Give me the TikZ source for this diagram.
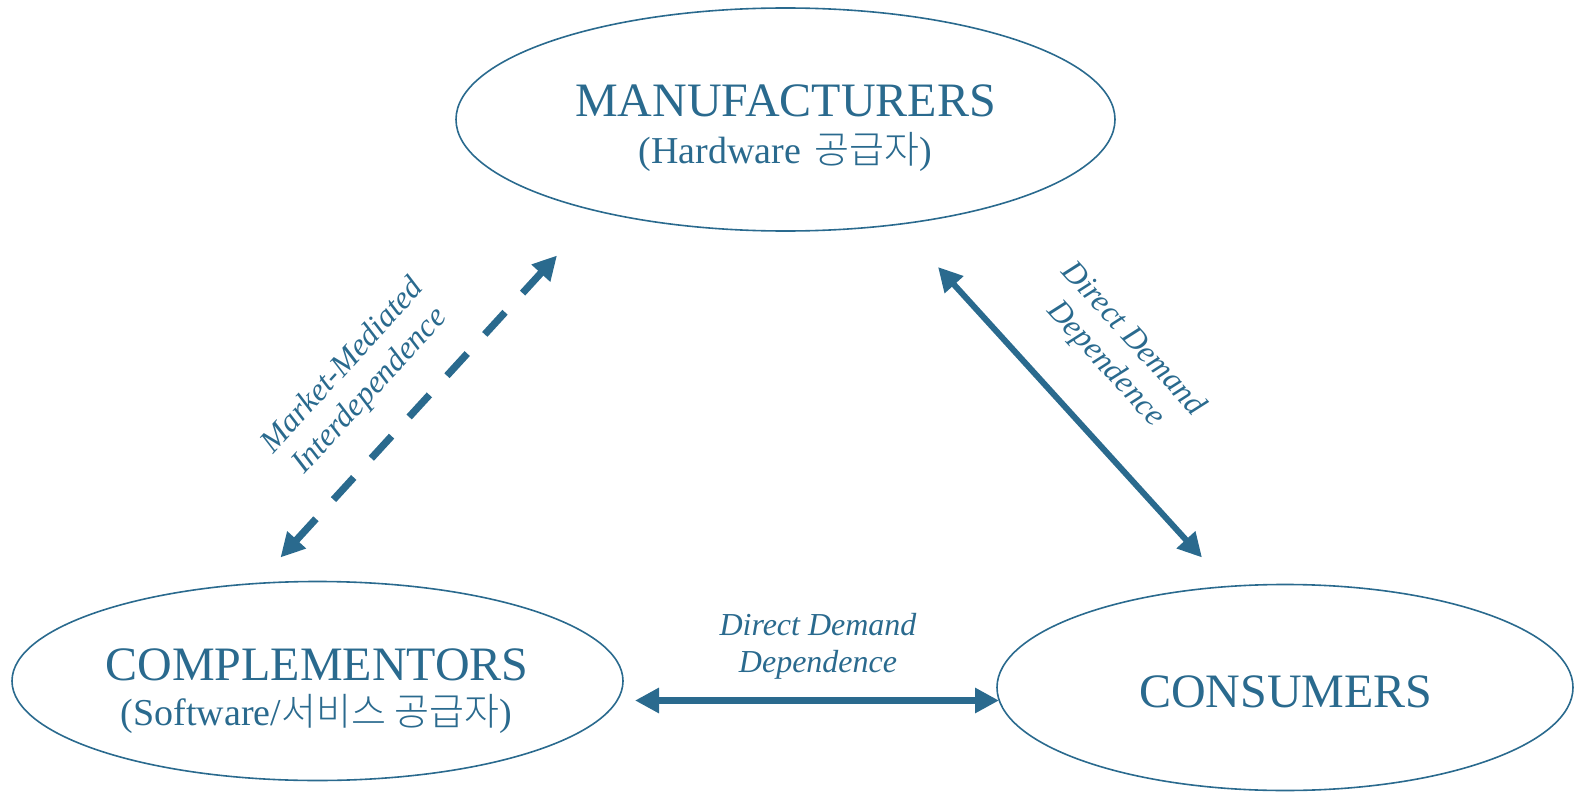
\documentclass[tikz,border=0pt]{standalone}
\usepackage{fontspec}
\setmainfont{Liberation Serif}
\IfFontExistsTF{Noto Sans CJK KR Light}
  {\newfontfamily\kr{Noto Sans CJK KR Light}}
  {\newfontfamily\kr{Noto Sans CJK KR}}
\usetikzlibrary{arrows.meta,shapes.geometric}
\definecolor{ink}{RGB}{42,106,142}
\tikzset{
  party/.style={draw=ink, line width=0.8pt, ellipse, inner sep=0pt},
  title/.style={text=ink, anchor=base, inner sep=0pt, font=\fontsize{24}{24}\selectfont},
  subtitle/.style={text=ink, anchor=base, inner sep=0pt, font=\fontsize{19}{19}\selectfont},
  relation/.style={draw=ink, line width=3.4pt, {Triangle[length=12pt,width=12pt]}-{Triangle[length=12pt,width=12pt]}},
  relabel/.style={text=ink, font=\fontsize{16}{18.5}\selectfont\itshape, align=center, inner sep=0pt},
}
\begin{document}
\begin{tikzpicture}[x=0.5pt,y=-0.5pt]
\useasboundingbox (0,0) rectangle (1575,792);

% the three parties
\node[party, minimum width=329.5pt, minimum height=111.5pt] (manu) at (785.5,119.5) {};
\node[party, minimum width=305.5pt, minimum height=99.5pt] (compl) at (317.5,681) {};
\node[party, minimum width=288pt, minimum height=103pt] (cons) at (1285,687.5) {};

\node[title] (manu-t) at (785.5,116.5) {MANUFACTURERS};
\node[subtitle] (manu-s) at (785.5,163.5) {(Hardware\hspace{0.1em} {\kr 공급자})};
\node[title] (compl-t) at (317,680) {COMPLEMENTORS};
\node[subtitle] (compl-s) at (316.5,725) {(Software/{\kr 서비스 공급자})};
\node[title] (cons-t) at (1286,707) {CONSUMERS};

% arrow end points
\coordinate (mm-a) at (280.5,557.5);
\coordinate (mm-b) at (557,255.5);
\coordinate (dd-a) at (938,267);
\coordinate (dd-b) at (1202,557.5);
\coordinate (cc-a) at (635,700.5);
\coordinate (cc-b) at (999,700.5);

% relations
\draw[relation, line width=3.6pt, dash pattern=on 15pt off 13pt] (mm-a) -- (mm-b);
\draw[relation, line width=3pt] (dd-a) -- (dd-b);
\draw[relation] (cc-a) -- (cc-b);

% relation labels
\node[relabel, rotate=47.5] (mm-label) at (357,379) {Market-Mediated\\Interdependence};
\node[relabel, rotate=-47.5] (dd-label) at (1119,352) {Direct Demand\\Dependence};
\node[relabel] (cc-label) at (818,646) {Direct Demand\\Dependence};
\end{tikzpicture}
\end{document}
